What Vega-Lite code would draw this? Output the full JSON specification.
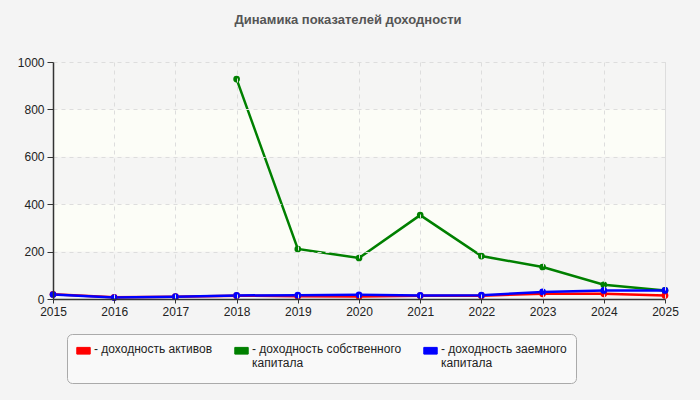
{
  "$schema": "https://vega.github.io/schema/vega-lite/v6.json",
  "width": 612,
  "height": 237,
  "autosize": {"type": "none"},
  "padding": {"left": 53, "top": 62, "right": 35, "bottom": 101},
  "background": "#f4f4f4",
  "title": {
    "text": "Динамика показателей доходности",
    "font": "Liberation Sans",
    "fontSize": 13,
    "fontWeight": "bold",
    "color": "#555555",
    "anchor": "middle",
    "dx": -11,
    "offset": 29
  },
  "config": {
    "view": {"fill": "#fcfdf7", "stroke": "#dddddd"},
    "axis": {
      "labelFont": "Liberation Sans",
      "labelFontSize": 12,
      "labelColor": "#222222",
      "domainColor": "#333333",
      "domainWidth": 1.5,
      "tickColor": "#333333",
      "gridColor": "#dddddd",
      "gridDash": [4, 4],
      "labelFlush": false,
      "title": null
    }
  },
  "datasets": {
    "bands": [
      {"lo": 0, "hi": 200},
      {"lo": 400, "hi": 600},
      {"lo": 800, "hi": 1000}
    ],
    "series": [
      {"year": 2018, "series": "доходность собственного капитала", "value": 928},
      {"year": 2019, "series": "доходность собственного капитала", "value": 211},
      {"year": 2020, "series": "доходность собственного капитала", "value": 173},
      {"year": 2021, "series": "доходность собственного капитала", "value": 354},
      {"year": 2022, "series": "доходность собственного капитала", "value": 181},
      {"year": 2023, "series": "доходность собственного капитала", "value": 135},
      {"year": 2024, "series": "доходность собственного капитала", "value": 60},
      {"year": 2025, "series": "доходность собственного капитала", "value": 36},
      {"year": 2015, "series": "доходность активов", "value": 20},
      {"year": 2016, "series": "доходность активов", "value": 7},
      {"year": 2017, "series": "доходность активов", "value": 10},
      {"year": 2018, "series": "доходность активов", "value": 14},
      {"year": 2019, "series": "доходность активов", "value": 12},
      {"year": 2020, "series": "доходность активов", "value": 11},
      {"year": 2021, "series": "доходность активов", "value": 14},
      {"year": 2022, "series": "доходность активов", "value": 14},
      {"year": 2023, "series": "доходность активов", "value": 22},
      {"year": 2024, "series": "доходность активов", "value": 22},
      {"year": 2025, "series": "доходность активов", "value": 15},
      {"year": 2015, "series": "доходность заемного капитала", "value": 19},
      {"year": 2016, "series": "доходность заемного капитала", "value": 6},
      {"year": 2017, "series": "доходность заемного капитала", "value": 10},
      {"year": 2018, "series": "доходность заемного капитала", "value": 15},
      {"year": 2019, "series": "доходность заемного капитала", "value": 16},
      {"year": 2020, "series": "доходность заемного капитала", "value": 18},
      {"year": 2021, "series": "доходность заемного капитала", "value": 15},
      {"year": 2022, "series": "доходность заемного капитала", "value": 16},
      {"year": 2023, "series": "доходность заемного капитала", "value": 30},
      {"year": 2024, "series": "доходность заемного капитала", "value": 36},
      {"year": 2025, "series": "доходность заемного капитала", "value": 36}
    ]
  },
  "layer": [
    {
      "data": {"name": "bands"},
      "mark": {"type": "rect", "fill": "#f5f5f4"},
      "encoding": {
        "y": {
          "field": "lo", "type": "quantitative",
          "scale": {"domain": [0, 1000], "nice": false},
          "axis": {"values": [0, 200, 400, 600, 800, 1000], "format": "d", "tickSize": 6, "labelPadding": 3, "grid": true, "zindex": 1}
        },
        "y2": {"field": "hi"}
      }
    },
    {
      "data": {"name": "series"},
      "mark": {"type": "line", "strokeWidth": 2.5},
      "encoding": {
        "x": {
          "field": "year", "type": "quantitative",
          "scale": {"domain": [2015, 2025], "nice": false, "zero": false},
          "axis": {
            "values": [2015, 2016, 2017, 2018, 2019, 2020, 2021, 2022, 2023, 2024, 2025],
            "format": "d", "tickSize": 4, "labelPadding": 3, "grid": true, "zindex": 1
          }
        },
        "y": {
          "field": "value", "type": "quantitative",
          "axis": {"values": [0, 200, 400, 600, 800, 1000], "format": "d", "tickSize": 6, "labelPadding": 3, "grid": true, "zindex": 1}
        },
        "color": {
          "field": "series", "type": "nominal",
          "scale": {
            "domain": ["доходность активов", "доходность собственного капитала", "доходность заемного капитала"],
            "range": ["#ff0000", "#008000", "#0000ff"]
          },
          "legend": {
            "title": "\u00a0",
            "titleOrient": "bottom",
            "titleFontSize": 2,
            "titlePadding": 3,
            "orient": "none",
            "legendX": 14,
            "legendY": 272,
            "direction": "horizontal",
            "columns": 3,
            "columnPadding": 19,
            "padding": 9,
            "fillColor": "#f9f9f9",
            "strokeColor": "#aaaaaa",
            "cornerRadius": 5,
            "symbolType": "M-1,-0.5H1V0.5H-1Z",
            "symbolSize": 180,
            "symbolStrokeWidth": 1,
            "symbolStrokeColor": "#666666",
            "labelFont": "Liberation Sans",
            "labelFontSize": 12,
            "labelColor": "#222222",
            "labelLimit": 400,
            "labelOffset": 3,
            "labelBaseline": "top",
            "labelExpr": "datum.label == 'доходность активов' ? ['- доходность активов', ' '] : datum.label == 'доходность собственного капитала' ? ['- доходность собственного', '\u00a0\u00a0капитала'] : ['- доходность заемного\u00a0\u00a0\u00a0\u00a0\u00a0\u00a0\u00a0\u00a0\u00a0\u00a0\u00a0\u00a0\u00a0\u00a0\u00a0\u00a0\u00a0\u00a0\u00a0\u00a0\u00a0\u00a0\u00a0\u00a0\u00a0\u00a0\u00a0\u00a0\u00a0\u00a0\u00a0\u00a0\u00a0\u00a0\u00a0\u00a0\u00a0\u00a0\u00a0\u00a0\u00a0\u00a0\u00a0', '\u00a0\u00a0капитала']",
            "encode": {"labels": {"update": {"dy": {"value": -7}, "lineHeight": {"value": 14}}}}
          }
        }
      }
    },
    {
      "data": {"name": "series"},
      "mark": {"type": "point", "filled": true, "opacity": 1, "size": 45},
      "encoding": {
        "x": {"field": "year", "type": "quantitative"},
        "y": {"field": "value", "type": "quantitative"},
        "color": {"field": "series", "type": "nominal", "legend": null}
      }
    }
  ]
}
